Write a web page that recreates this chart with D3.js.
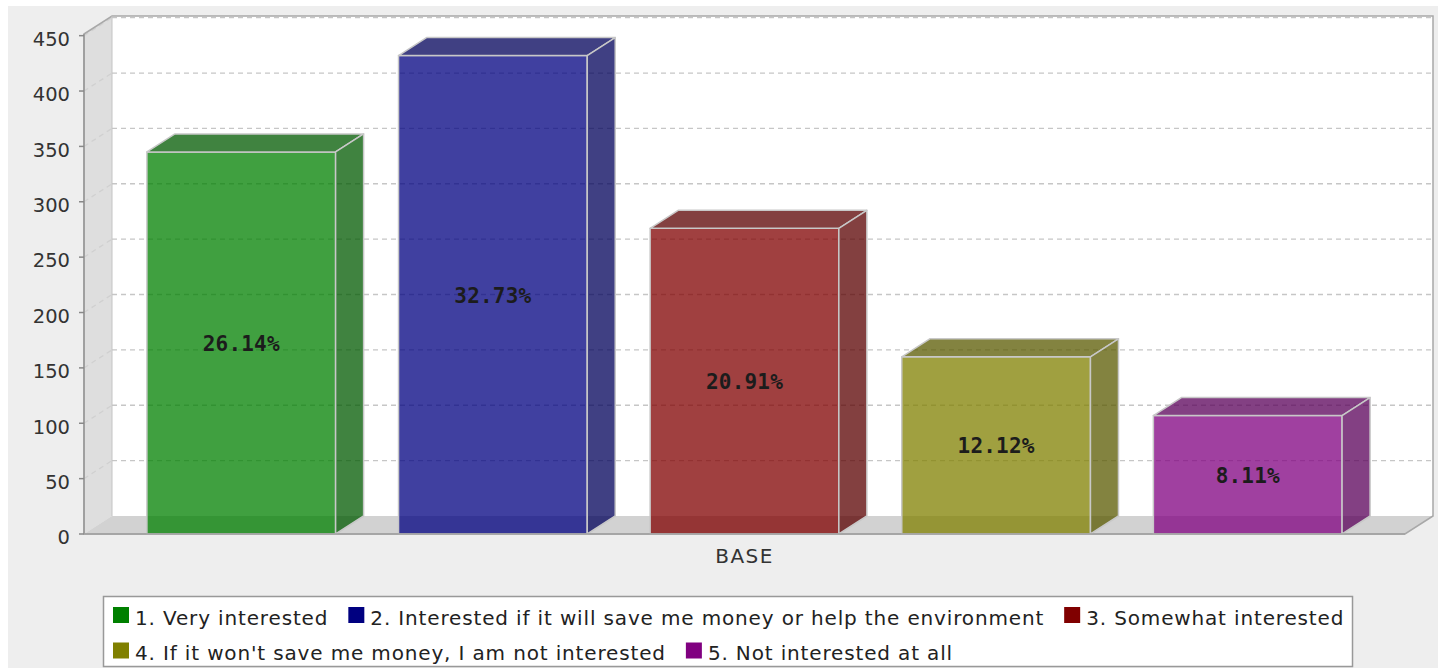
<!DOCTYPE html>
<html>
<head>
<meta charset="utf-8">
<script src="https://cdn.jsdelivr.net/npm/d3@7"></script>
<style>
  html, body { margin: 0; padding: 0; background: #ffffff; }
  svg { display: block; }
</style>
</head>
<body>
<svg id="chart" width="1438" height="668"></svg>
<script>
// ---- data ----
const category = "BASE";
const seriesNames = [
  "1. Very interested",
  "2. Interested if it will save me money or help the environment",
  "3. Somewhat interested",
  "4. If it won't save me money, I am not interested",
  "5. Not interested at all"
];
const counts = [345, 432, 276, 160, 107];
const shareLabels = ["26.14%", "32.73%", "20.91%", "12.12%", "8.11%"];
const seriesColors = ["#008000", "#000080", "#800000", "#808000", "#800080"];
const yTickValues = [0, 50, 100, 150, 200, 250, 300, 350, 400, 450];

// ---- layout ----
const svg = d3.select("#chart");
const frame = { left: 84, right: 1405, top: 34, bottom: 534 };
const depth = { dx: 28, dy: 18 };

const y = d3.scaleLinear().domain([0, 451.5]).range([frame.bottom, frame.top]);
const x = d3.scaleBand()
  .domain(d3.range(seriesNames.length))
  .range([frame.left, frame.right])
  .paddingInner(0.25)
  .paddingOuter(0.25);

const sans = "'DejaVu Sans', Verdana, sans-serif";

// chart background
svg.append("rect").attr("x", 8).attr("y", 6).attr("width", 1430).attr("height", 662)
  .attr("fill", "#eeeeee");

// back wall
svg.append("rect")
  .attr("x", frame.left + depth.dx).attr("y", frame.top - depth.dy)
  .attr("width", frame.right - frame.left).attr("height", frame.bottom - frame.top)
  .attr("fill", "#ffffff");

// left wall
const line = d3.line();
svg.append("path")
  .attr("d", line([
    [frame.left, frame.bottom], [frame.left, frame.top],
    [frame.left + depth.dx, frame.top - depth.dy], [frame.left + depth.dx, frame.bottom - depth.dy]
  ]) + "Z")
  .attr("fill", "#dedede");

// floor
svg.append("path")
  .attr("d", line([
    [frame.left, frame.bottom], [frame.left + depth.dx, frame.bottom - depth.dy],
    [frame.right + depth.dx, frame.bottom - depth.dy], [frame.right, frame.bottom]
  ]) + "Z")
  .attr("fill", "#d2d2d2");

// gridlines on the back wall and the left wall
const grid = svg.append("g").attr("stroke", "#c6c6c6").attr("stroke-width", 1.3)
  .attr("stroke-dasharray", "5,4").attr("fill", "none");
yTickValues.filter(v => v > 0).forEach(v => {
  const yy = y(v);
  grid.append("line")
    .attr("x1", frame.left + depth.dx).attr("x2", frame.right + depth.dx)
    .attr("y1", yy - depth.dy).attr("y2", yy - depth.dy);
  grid.append("line")
    .attr("x1", frame.left).attr("x2", frame.left + depth.dx)
    .attr("y1", yy).attr("y2", yy - depth.dy)
    .attr("stroke", "#d0d0d0");
});

// plot outline
svg.append("path")
  .attr("d", line([
    [frame.left, frame.bottom], [frame.left, frame.top],
    [frame.left + depth.dx, frame.top - depth.dy], [frame.right + depth.dx, frame.top - depth.dy],
    [frame.right + depth.dx, frame.bottom - depth.dy], [frame.right, frame.bottom]
  ]) + "Z")
  .attr("fill", "none").attr("stroke", "#a8a8a8").attr("stroke-width", 1.5);
svg.append("line")
  .attr("x1", frame.left + depth.dx).attr("x2", frame.left + depth.dx)
  .attr("y1", frame.top - depth.dy).attr("y2", frame.bottom - depth.dy)
  .attr("stroke", "#c4c4c4").attr("stroke-width", 1);

// y axis ticks and labels
const axis = svg.append("g");
axis.append("line")
  .attr("x1", frame.left).attr("x2", frame.left)
  .attr("y1", frame.top).attr("y2", frame.bottom)
  .attr("stroke", "#999999").attr("stroke-width", 1.5);
yTickValues.forEach(v => {
  axis.append("line")
    .attr("x1", frame.left - 5).attr("x2", frame.left)
    .attr("y1", y(v)).attr("y2", y(v))
    .attr("stroke", "#888888").attr("stroke-width", 1.5);
  axis.append("text")
    .attr("x", 70).attr("y", y(v) + 10.3)
    .attr("text-anchor", "end")
    .attr("font-family", sans).attr("font-size", 19.5)
    .attr("fill", "#333333")
    .text(v);
});

// 3D bars
const bars = svg.append("g");
counts.forEach((v, i) => {
  const x0 = x(i), x1 = x(i) + x.bandwidth();
  const top = y(v), bottom = y(0);
  const base = d3.rgb(seriesColors[i]);
  const dark = base.darker(1);
  const g = bars.append("g")
    .attr("stroke", "#c8c8c8").attr("stroke-width", 1.5).attr("stroke-linejoin", "round");

  g.append("rect")
    .attr("x", x0).attr("y", top).attr("width", x1 - x0).attr("height", bottom - top)
    .attr("fill", base.formatHex()).attr("fill-opacity", 0.75);
  g.append("path")
    .attr("d", line([[x0, top], [x0 + depth.dx, top - depth.dy], [x1 + depth.dx, top - depth.dy], [x1, top]]) + "Z")
    .attr("fill", dark.formatHex()).attr("fill-opacity", 0.75);
  g.append("path")
    .attr("d", line([[x1, top], [x1 + depth.dx, top - depth.dy], [x1 + depth.dx, bottom - depth.dy], [x1, bottom]]) + "Z")
    .attr("fill", dark.formatHex()).attr("fill-opacity", 0.75);

  bars.append("text")
    .attr("x", (x0 + x1) / 2).attr("y", (top + bottom) / 2 + 8)
    .attr("text-anchor", "middle")
    .attr("font-family", "'DejaVu Sans Mono', 'Liberation Mono', monospace")
    .attr("font-weight", "bold").attr("font-size", 21)
    .attr("letter-spacing", 0.2)
    .attr("fill", "#1c1c1c")
    .text(shareLabels[i]);
});

// floor front edge
svg.append("line")
  .attr("x1", frame.left).attr("x2", frame.right)
  .attr("y1", frame.bottom).attr("y2", frame.bottom)
  .attr("stroke", "#a0a0a0").attr("stroke-width", 1.5);

// category label
svg.append("text")
  .attr("x", (frame.left + frame.right) / 2).attr("y", 563)
  .attr("text-anchor", "middle")
  .attr("font-family", sans).attr("font-size", 20).attr("letter-spacing", 1.4)
  .attr("fill", "#333333")
  .text(category);

// legend
const legend = { x: 103.5, y: 596.5, w: 1249, h: 70, pad: 9.5, rowH: 35.5 };
svg.append("rect")
  .attr("x", legend.x).attr("y", legend.y).attr("width", legend.w).attr("height", legend.h)
  .attr("fill", "#ffffff").attr("stroke", "#999999").attr("stroke-width", 1.5);

const lg = svg.append("g");
let cx = legend.x + legend.pad, row = 0;
seriesNames.forEach((name, i) => {
  const item = lg.append("g");
  const label = item.append("text")
    .attr("font-family", sans).attr("font-size", 20).attr("letter-spacing", 0.85)
    .attr("fill", "#222222")
    .text(name);
  const tw = label.node().getComputedTextLength();
  const itemW = 22 + tw;
  if (cx + itemW > legend.x + legend.w - 5) { row += 1; cx = legend.x + legend.pad; }
  const ry = legend.y + 10.5 + row * legend.rowH;
  item.insert("rect", "text")
    .attr("x", cx).attr("y", ry).attr("width", 16).attr("height", 16)
    .attr("fill", seriesColors[i]);
  label.attr("x", cx + 22).attr("y", ry + 17.5);
  cx += itemW + 20;
});
</script>
</body>
</html>
